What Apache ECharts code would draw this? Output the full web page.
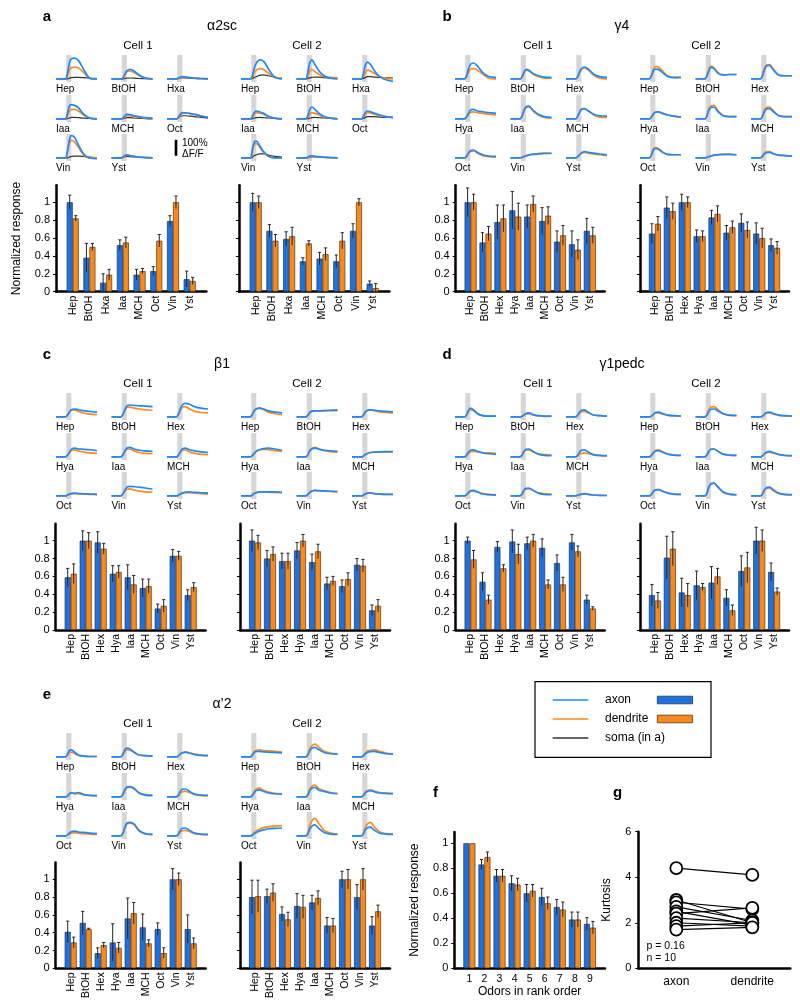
<!DOCTYPE html>
<html><head><meta charset="utf-8">
<script src="https://cdn.jsdelivr.net/npm/echarts@6/dist/echarts.min.js"></script>
<style>html,body{margin:0;padding:0;background:#fff}#c{width:800px;height:1004px}</style>
</head><body><div id="c"></div><script>
const FONT = '"Liberation Sans", Arial, Helvetica, sans-serif';
const BLUE_BAR = '#1f72de', ORANGE_BAR = '#f78a1d';
const BLUE_LINE = '#1e88ff', ORANGE_LINE = '#ff8a1c', SOMA_LINE = '#333333';

const odorsA = ['Hep','BtOH','Hxa','Iaa','MCH','Oct','Vin','Yst'];
const odors9 = ['Hep','BtOH','Hex','Hya','Iaa','MCH','Oct','Vin','Yst'];
const timePts = [0, 9, 11, 13, 15, 18, 22, 27, 33, 40];
const stimWindow = [10, 15];

// ---- traces (% dF/F) ----
const a1_axonT = [[0,0,30,100,125,130,115,60,5,0],[0,0,5,30,50,60,50,25,5,0],[0,0,5,12,15,12,8,5,3,0],[0,0,30,80,90,85,70,30,5,0],[0,0,5,20,30,28,20,15,8,5],[0,0,10,30,40,38,35,28,18,10],[0,0,40,110,140,130,80,25,0,-5],[0,0,5,15,20,15,10,5,3,0]];
const a1_dendT = [[0,0,20,55,70,75,68,40,5,0],[0,0,5,25,45,50,40,20,5,0],[0,0,3,8,10,10,8,5,3,0],[0,0,20,50,60,60,50,25,5,0],[0,0,3,15,20,20,15,10,5,3],[0,0,5,20,35,38,35,30,20,10],[0,0,30,90,110,100,65,20,0,0],[0,0,5,12,18,15,10,5,3,0]];
const a1_somaT = [[0,0,0,5,8,10,10,8,5,2],[0,0,0,3,5,6,5,3,2,0],[0,0,3,5,8,6,5,3,2,0],[0,0,2,6,10,10,8,5,3,0],[0,0,2,5,8,8,6,4,2,0],[0,0,5,15,20,20,18,15,10,5],[0,0,0,5,10,12,12,10,5,3],[0,0,3,8,10,8,6,4,2,0]];
const a2_axonT = [[0,0,20,70,100,120,112,60,10,0],[0,0,40,100,120,90,50,20,5,0],[0,0,30,85,105,90,50,15,-5,-15],[0,0,15,40,50,45,35,15,5,0],[0,0,20,60,75,60,35,15,5,0],[0,0,15,40,50,45,35,25,15,10],[0,0,50,100,105,80,40,10,0,0],[0,0,5,12,15,10,8,5,3,0]];
const a2_dendT = [[0,0,10,40,55,65,60,35,10,5],[0,0,20,50,60,45,30,15,10,8],[0,0,15,40,55,50,35,15,5,0],[0,0,10,30,40,38,30,15,5,0],[0,0,10,30,40,35,25,12,5,0],[0,0,10,30,40,38,30,22,15,10],[0,0,40,85,90,70,35,10,0,0],[0,0,3,8,10,8,6,4,2,0]];
const a2_somaT = [[0,0,3,10,15,22,25,20,12,5],[0,0,3,8,10,12,12,8,5,3],[0,0,3,10,15,15,12,10,8,5],[0,0,2,6,8,10,8,6,3,0],[0,0,2,5,8,10,8,6,4,2],[0,0,3,10,15,15,15,12,10,8],[0,0,5,15,20,25,25,18,10,5],[0,0,2,5,6,6,5,3,2,0]];

const b1_axonT = [[0,0,15,60,90,100,80,40,15,10],[0,0,10,40,60,55,35,20,12,10],[0,0,10,40,65,75,60,30,15,10],[0,0,10,35,55,60,50,45,40,35],[0,0,15,50,75,80,55,30,15,10],[0,0,10,40,60,65,50,30,20,18],[0,0,8,30,45,50,35,20,12,10],[0,0,3,8,12,18,22,25,28,28],[0,0,5,20,32,40,35,30,25,20]];
const b1_dendT = [[0,0,10,40,60,65,55,30,5,0],[0,0,8,35,55,50,30,15,5,5],[0,0,8,35,60,70,55,25,5,0],[0,0,8,25,40,45,40,35,30,25],[0,0,12,45,70,75,50,25,10,5],[0,0,10,38,58,65,50,25,12,10],[0,0,6,25,40,45,30,15,8,5],[0,0,3,10,15,20,25,28,30,30],[0,0,5,18,28,35,30,25,20,15]];
const b2_axonT = [[0,0,15,50,62,60,40,15,8,10],[0,0,15,50,72,65,35,25,28,28],[0,0,15,55,80,85,55,25,20,20],[0,0,10,30,42,45,35,25,18,12],[0,0,15,55,72,75,45,20,15,15],[0,0,12,45,62,65,45,20,15,15],[0,0,15,50,60,55,35,22,20,20],[0,0,3,8,12,18,20,22,22,20],[0,0,8,25,33,35,25,18,15,12]];
const b2_dendT = [[0,0,20,60,78,75,50,20,10,10],[0,0,20,60,80,70,40,25,28,28],[0,0,20,65,88,90,60,25,20,20],[0,0,10,32,44,45,35,25,18,12],[0,0,20,65,82,85,50,22,15,15],[0,0,15,55,72,75,50,22,15,15],[0,0,18,55,65,60,38,22,20,20],[0,0,3,8,12,18,20,22,22,20],[0,0,10,30,38,40,28,18,15,12]];

const c1_axonT = [[0,0,10,30,45,50,45,40,35,30],[0,0,15,45,70,75,72,70,68,65],[0,0,15,50,75,85,80,65,55,50],[0,0,10,30,48,55,50,48,45,40],[0,0,12,38,55,60,50,42,38,35],[0,0,10,32,50,55,45,38,32,28],[0,0,5,12,15,18,15,14,12,10],[0,0,12,35,55,60,58,55,50,42],[0,0,5,12,18,22,25,22,20,18]];
const c1_dendT = [[0,0,10,30,42,45,35,25,18,15],[0,0,12,40,60,62,55,50,45,42],[0,0,12,40,60,65,50,35,28,25],[0,0,8,25,40,45,38,30,25,22],[0,0,10,32,48,50,38,28,22,20],[0,0,8,28,42,45,32,22,16,15],[0,0,5,10,13,15,14,12,10,8],[0,0,10,30,42,45,38,30,26,24],[0,0,5,12,18,22,20,18,15,12]];
const c2_axonT = [[0,0,15,40,50,55,50,38,30,25],[0,0,10,28,35,38,38,40,42,44],[0,0,10,30,40,45,42,38,35,32],[0,0,8,22,35,45,52,55,50,42],[0,0,12,38,50,55,48,42,38,35],[0,0,5,15,22,28,30,32,33,33],[0,0,5,15,20,25,25,25,25,22],[0,0,8,22,30,35,33,32,30,28],[0,0,5,12,18,20,15,12,10,10]];
const c2_dendT = [[0,0,15,40,52,55,45,30,20,15],[0,0,10,30,38,40,38,38,40,40],[0,0,10,32,42,45,38,32,28,25],[0,0,10,25,38,45,48,45,40,35],[0,0,15,42,55,60,50,40,33,30],[0,0,5,15,22,28,30,32,32,32],[0,0,6,18,22,25,25,24,22,20],[0,0,8,25,32,35,32,30,28,25],[0,0,5,12,18,18,14,12,10,10]];

const d1_axonT = [[0,0,10,40,55,45,20,8,5,5],[0,0,3,12,22,25,15,8,5,5],[0,0,8,28,42,45,28,12,8,5],[0,0,8,30,42,45,35,25,20,18],[0,0,10,35,48,50,35,18,10,8],[0,0,8,28,42,45,30,15,10,8],[0,0,5,20,32,35,25,12,8,5],[0,0,10,35,48,50,35,18,10,8],[0,0,3,8,12,15,10,6,4,3]];
const d1_dendT = [[0,0,8,32,45,40,20,8,5,5],[0,0,3,10,18,20,12,6,4,4],[0,0,6,22,33,35,25,12,8,5],[0,0,6,22,32,35,32,28,25,22],[0,0,8,30,42,45,32,20,15,12],[0,0,5,15,22,25,20,12,8,6],[0,0,5,18,28,30,25,15,10,8],[0,0,8,30,42,45,35,20,15,10],[0,0,3,7,10,12,10,6,4,3]];
const d2_axonT = [[0,0,5,18,28,30,22,12,8,6],[0,0,10,35,48,50,38,20,12,10],[0,0,5,18,28,30,22,12,8,6],[0,0,8,25,36,40,30,18,12,10],[0,0,10,35,48,50,35,18,12,10],[0,0,6,20,30,35,28,16,10,8],[0,0,8,28,38,40,30,18,12,10],[0,0,15,55,75,80,55,25,12,8],[0,0,10,38,52,55,38,18,10,8]];
const d2_dendT = [[0,0,4,15,23,25,18,10,6,5],[0,0,12,45,62,65,45,20,10,8],[0,0,4,15,23,25,18,10,6,5],[0,0,9,28,40,45,32,18,12,10],[0,0,10,35,48,50,35,18,12,10],[0,0,5,18,26,30,24,14,9,7],[0,0,8,28,38,40,30,18,12,10],[0,0,15,55,75,80,55,22,10,6],[0,0,9,34,47,50,32,15,8,6]];

const e1_axonT = [[0,0,15,40,45,30,12,5,3,3],[0,0,15,45,55,50,30,12,8,5],[0,0,5,18,26,30,25,15,10,8],[0,0,5,20,28,20,28,15,10,8],[0,0,15,45,62,65,55,25,12,8],[0,0,10,35,48,50,35,18,12,10],[0,0,5,18,26,30,25,22,18,15],[0,0,15,55,80,85,75,35,15,10],[0,0,10,35,48,50,35,18,12,10]];
const e1_dendT = [[0,0,10,25,30,22,10,5,3,3],[0,0,12,35,45,42,28,12,8,5],[0,0,5,18,26,30,25,18,12,10],[0,0,4,15,22,25,20,15,10,8],[0,0,12,40,56,60,50,25,15,12],[0,0,8,25,33,35,28,15,10,8],[0,0,4,12,18,20,18,15,12,10],[0,0,15,50,75,80,70,30,12,8],[0,0,8,25,33,35,28,15,10,8]];
const e2_axonT = [[0,0,10,28,34,35,32,30,28,25],[0,0,12,40,55,60,45,28,20,18],[0,0,6,20,28,33,35,28,20,18],[0,0,8,28,40,45,35,25,20,18],[0,0,12,40,55,60,42,35,25,20],[0,0,8,25,35,40,32,25,22,20],[0,0,5,15,22,30,38,45,48,50],[0,0,12,45,62,70,45,22,12,10],[0,0,10,38,52,55,35,18,12,10]];
const e2_dendT = [[0,0,12,35,42,45,40,38,35,30],[0,0,15,50,70,80,60,35,25,20],[0,0,8,25,35,42,45,35,25,20],[0,0,10,35,50,55,42,30,22,20],[0,0,15,50,68,75,52,38,28,22],[0,0,10,30,40,45,36,28,24,22],[0,0,8,22,32,42,52,58,62,65],[0,0,18,65,95,110,75,35,18,12],[0,0,15,55,75,85,55,25,15,12]];

// ---- normalized responses (mean, sem) ----
const a1_axM=[1.0,0.38,0.10,0.52,0.19,0.23,0.79,0.14], a1_axE=[0.08,0.16,0.10,0.06,0.06,0.05,0.06,0.09];
const a1_deM=[0.82,0.50,0.19,0.55,0.23,0.57,1.0,0.12], a1_deE=[0.03,0.04,0.06,0.06,0.03,0.07,0.07,0.04];
const a2_axM=[1.0,0.68,0.59,0.34,0.37,0.34,0.68,0.09], a2_axE=[0.10,0.07,0.08,0.04,0.07,0.07,0.08,0.03];
const a2_deM=[1.0,0.57,0.62,0.54,0.42,0.57,1.0,0.04], a2_deE=[0.07,0.07,0.10,0.03,0.07,0.09,0.04,0.05];
const b1_axM=[1.0,0.55,0.78,0.91,0.84,0.79,0.56,0.53,0.68], b1_axE=[0.16,0.11,0.19,0.21,0.13,0.15,0.12,0.15,0.14];
const b1_deM=[1.0,0.65,0.82,0.84,0.98,0.85,0.63,0.47,0.63], b1_deE=[0.09,0.08,0.15,0.15,0.09,0.10,0.11,0.11,0.09];
const b2_axM=[0.65,0.94,1.0,0.62,0.83,0.66,0.77,0.65,0.52], b2_axE=[0.11,0.12,0.09,0.07,0.08,0.08,0.10,0.12,0.07];
const b2_deM=[0.76,0.90,1.0,0.62,0.87,0.72,0.69,0.60,0.49], b2_deE=[0.08,0.09,0.06,0.06,0.09,0.07,0.09,0.11,0.07];
const c1_axM=[0.59,1.0,0.98,0.63,0.59,0.47,0.24,0.83,0.39], c1_axE=[0.10,0.11,0.12,0.09,0.14,0.10,0.05,0.07,0.06];
const c1_deM=[0.63,1.0,0.91,0.65,0.51,0.49,0.27,0.83,0.48], c1_deE=[0.11,0.09,0.06,0.07,0.10,0.08,0.07,0.05,0.05];
const c2_axM=[1.0,0.80,0.77,0.89,0.76,0.52,0.49,0.73,0.22], c2_axE=[0.12,0.09,0.09,0.09,0.09,0.07,0.07,0.07,0.06];
const c2_deM=[0.98,0.85,0.77,1.0,0.88,0.55,0.57,0.72,0.27], c2_deE=[0.08,0.08,0.09,0.07,0.08,0.05,0.07,0.07,0.07];
const d1_axM=[1.0,0.54,0.93,0.99,0.97,0.92,0.75,0.98,0.34], d1_axE=[0.04,0.10,0.06,0.13,0.07,0.10,0.09,0.09,0.05];
const d1_deM=[0.79,0.34,0.69,0.85,1.0,0.51,0.51,0.88,0.24], d1_deE=[0.10,0.05,0.04,0.11,0.07,0.05,0.08,0.06,0.02];
const d2_axM=[0.39,0.81,0.42,0.50,0.53,0.36,0.66,1.0,0.65], d2_axE=[0.12,0.24,0.16,0.16,0.18,0.09,0.17,0.15,0.10];
const d2_deM=[0.33,0.91,0.39,0.48,0.60,0.22,0.70,1.0,0.43], d2_deE=[0.09,0.19,0.13,0.04,0.09,0.06,0.17,0.12,0.04];
const e1_axM=[0.41,0.51,0.17,0.29,0.56,0.46,0.44,1.0,0.44], e1_axE=[0.12,0.13,0.06,0.21,0.23,0.15,0.07,0.12,0.16];
const e1_deM=[0.29,0.44,0.26,0.23,0.62,0.28,0.17,1.0,0.28], e1_deE=[0.06,0.01,0.03,0.06,0.12,0.04,0.06,0.07,0.06];
const e2_axM=[0.80,0.81,0.61,0.70,0.74,0.48,1.0,0.80,0.48], e2_axE=[0.19,0.08,0.08,0.14,0.08,0.09,0.09,0.14,0.10];
const e2_deM=[0.81,0.85,0.55,0.69,0.79,0.48,1.0,1.0,0.64], e2_deE=[0.18,0.10,0.08,0.13,0.08,0.08,0.11,0.12,0.07];

const rankLabels = ['1','2','3','4','5','6','7','8','9'];
const f_axM=[1.0,0.83,0.74,0.68,0.60,0.57,0.49,0.39,0.355], f_axE=[0,0.04,0.05,0.06,0.07,0.07,0.06,0.06,0.05];
const f_deM=[1.0,0.89,0.74,0.67,0.62,0.52,0.47,0.39,0.325], f_deE=[0,0.04,0.05,0.05,0.05,0.05,0.06,0.06,0.05];

const gCats = ['axon','dendrite'];
const kurtAxon = [4.4,3.0,2.9,2.7,2.5,2.4,2.2,2.0,1.85,1.7];
const kurtDend = [4.1,2.0,2.6,2.1,1.9,2.65,2.0,1.85,2.0,1.8];
const normTicks = [0,0.2,0.4,0.6,0.8,1];

// ---- builders ----
const grid=[], xAxis=[], yAxis=[], series=[], graphic=[];
function addGrid(g, xa, ya){ grid.push(g); const i=grid.length-1; xa.gridIndex=i; ya.gridIndex=i; xAxis.push(xa); yAxis.push(ya); return i; }
function txt(x, y, s, size, o){ o=o||{}; graphic.push({type:'text', x:x, y:y, silent:true, z:10,
  style:{text:s, font:(o.bold?'bold ':'')+size+'px '+FONT, fill:'#000', textAlign:o.align||'left', textVerticalAlign:'middle'}}); }

function tracePanel(dx, dy, odors, cells){
  const colOff=[0,55.5,111], rowTop=[55,95,134];
  cells.forEach(cell=>{
    odors.forEach((od,k)=>{
      const r=Math.floor(k/3), c=k%3;
      const left=dx+cell.x0+colOff[c], top=dy+rowTop[r];
      const gi=addGrid({left:left, top:top, width:41, height:27},
        {type:'value', min:0, max:40, show:false},
        {type:'value', min:-19, max:150, show:false});
      const mk=(arr,color,w,z)=>({type:'line', xAxisIndex:gi, yAxisIndex:gi, data:timePts.map((t,j)=>[t,arr[k][j]]),
        showSymbol:false, smooth:0.3, lineStyle:{color:color, width:w}, silent:true, z:z});
      const lines=[];
      if(cell.soma) lines.push(mk(cell.soma,SOMA_LINE,1.2,3));
      lines.push(mk(cell.dend,ORANGE_LINE,1.7,4));
      lines.push(mk(cell.axon,BLUE_LINE,1.7,5));
      lines[0].markArea={silent:true, itemStyle:{color:'#d6d6d6'}, data:[[{xAxis:stimWindow[0]},{xAxis:stimWindow[1]}]]};
      lines.forEach(s=>series.push(s));
      txt(left, top+34, od, 10);
    });
  });
}

function errSeries(gi, means, errs, offset){
  return {type:'custom', xAxisIndex:gi, yAxisIndex:gi, z:6, silent:true,
    data: means.map((m,i)=>[i+1, m, errs[i]]),
    renderItem:(p, api)=>{
      const x=api.value(0), m=api.value(1), e=api.value(2);
      if(!e) return null;
      const t=api.coord([x, m+e]), b=api.coord([x, m-e]);
      const px=t[0]+offset;
      return {type:'group', children:[
        {type:'line', shape:{x1:px,y1:b[1],x2:px,y2:t[1]}, style:{stroke:'#262626', lineWidth:1}},
        {type:'line', shape:{x1:px-1.6,y1:t[1],x2:px+1.6,y2:t[1]}, style:{stroke:'#262626', lineWidth:1}}
      ]};
    }};
}

function barPanel(o){
  const cats=['',...o.cats,''];
  const gi=addGrid({left:o.left, top:o.top, width:o.width, height:o.height},
    {type:'category', data:cats, boundaryGap:false,
     axisLine:{lineStyle:{color:'#000', width:2.5}}, axisTick:{show:false},
     axisLabel:{interval:0, rotate:o.rotate, fontSize:o.xFont||10.5, color:'#000', fontFamily:FONT, margin:o.xMargin||4},
     name:o.xName||'', nameLocation:'middle', nameGap:o.xNameGap||16, nameTextStyle:{fontSize:12, color:'#000', fontFamily:FONT}},
    {type:'value', min:0, max:o.ymax,
     axisLine:{show:true, lineStyle:{color:'#000', width:2.5}},
     axisTick:{show:true, length:3, customValues:normTicks, lineStyle:{color:'#000', width:1}},
     axisLabel:{show:o.ylabels, customValues:normTicks, fontSize:11, color:'#000', fontFamily:FONT, margin:6},
     splitLine:{show:false},
     name:o.yName||'', nameLocation:'middle', nameGap:o.yNameGap||33, nameRotate:90, nameTextStyle:{fontSize:12, color:'#000', fontFamily:FONT}});
  series.push({type:'bar', xAxisIndex:gi, yAxisIndex:gi, data:[null,...o.axM,null], barWidth:6, barGap:'0%', silent:true,
    itemStyle:{color:BLUE_BAR, borderColor:'#1a3560', borderWidth:0.7}});
  series.push({type:'bar', xAxisIndex:gi, yAxisIndex:gi, data:[null,...o.deM,null], barWidth:6, barGap:'0%', silent:true,
    itemStyle:{color:ORANGE_BAR, borderColor:'#5a3410', borderWidth:0.7}});
  series.push(errSeries(gi, o.axM, o.axE, -3));
  series.push(errSeries(gi, o.deM, o.deE, 3));
}

// ---- panel headers ----
function header(dx, dy, letter, title, c1x, c2x){
  txt(dx+47, dy+17, letter, 15, {bold:true, align:'center'});
  txt(dx+222, dy+26, title, 14, {align:'center'});
  txt(c1x, dy+46, 'Cell 1', 11.5, {align:'center'});
  txt(c2x, dy+46, 'Cell 2', 11.5, {align:'center'});
}
header(0,0,'a','\u03b12sc',138,307);
header(400,0,'b','\u03b34',538,706);
header(0,338,'c','\u03b21',138,307);
header(400,338,'d','\u03b31pedc',538,706);
header(0,678,'e','\u03b1\u20192',138,307);

tracePanel(0,0,odorsA,[{x0:56,axon:a1_axonT,dend:a1_dendT,soma:a1_somaT},{x0:241,axon:a2_axonT,dend:a2_dendT,soma:a2_somaT}]);
tracePanel(399,0,odors9,[{x0:56,axon:b1_axonT,dend:b1_dendT},{x0:241,axon:b2_axonT,dend:b2_dendT}]);
tracePanel(0,338,odors9,[{x0:56,axon:c1_axonT,dend:c1_dendT},{x0:241,axon:c2_axonT,dend:c2_dendT}]);
tracePanel(399,338,odors9,[{x0:56,axon:d1_axonT,dend:d1_dendT},{x0:241,axon:d2_axonT,dend:d2_dendT}]);
tracePanel(0,678,odors9,[{x0:56,axon:e1_axonT,dend:e1_dendT},{x0:241,axon:e2_axonT,dend:e2_dendT}]);

// scale bar (100% dF/F) drawn on the trace scale
(function(){
  const gi=addGrid({left:174, top:131.7, width:4, height:27},{type:'value',min:-1,max:1,show:false},{type:'value',min:-19,max:150,show:false});
  series.push({type:'line', xAxisIndex:gi, yAxisIndex:gi, data:[[0,0],[0,100]], showSymbol:false, lineStyle:{color:'#000', width:2.6}, silent:true});
  txt(182, 143.5, '100%', 10);
  txt(182, 154.5, '\u0394F/F', 10);
})();

// ---- bar panels ----
const H1=106.4;
barPanel({left:56, top:185.3, width:150.4, height:H1, ymax:1.19, cats:odorsA, axM:a1_axM, axE:a1_axE, deM:a1_deM, deE:a1_deE, rotate:90, ylabels:true, yName:'Normalized response'});
barPanel({left:239, top:185.3, width:150.4, height:H1, ymax:1.19, cats:odorsA, axM:a2_axM, axE:a2_axE, deM:a2_deM, deE:a2_deE, rotate:90, ylabels:false});
barPanel({left:455.7, top:185.3, width:149, height:H1, ymax:1.19, cats:odors9, axM:b1_axM, axE:b1_axE, deM:b1_deM, deE:b1_deE, rotate:90, ylabels:true});
barPanel({left:640, top:185.3, width:149, height:H1, ymax:1.19, cats:odors9, axM:b2_axM, axE:b2_axE, deM:b2_deM, deE:b2_deE, rotate:90, ylabels:false});
barPanel({left:55.7, top:523.7, width:150, height:106.3, ymax:1.19, cats:odors9, axM:c1_axM, axE:c1_axE, deM:c1_deM, deE:c1_deE, rotate:90, ylabels:true});
barPanel({left:240, top:523.7, width:150, height:106.3, ymax:1.19, cats:odors9, axM:c2_axM, axE:c2_axE, deM:c2_deM, deE:c2_deE, rotate:90, ylabels:false});
barPanel({left:455.7, top:523.7, width:149, height:106.3, ymax:1.19, cats:odors9, axM:d1_axM, axE:d1_axE, deM:d1_deM, deE:d1_deE, rotate:90, ylabels:true});
barPanel({left:640, top:523.7, width:149, height:106.3, ymax:1.19, cats:odors9, axM:d2_axM, axE:d2_axE, deM:d2_deM, deE:d2_deE, rotate:90, ylabels:false});
barPanel({left:55.7, top:862.4, width:150, height:105.9, ymax:1.19, cats:odors9, axM:e1_axM, axE:e1_axE, deM:e1_deM, deE:e1_deE, rotate:90, ylabels:true});
barPanel({left:240, top:862.4, width:150, height:105.9, ymax:1.19, cats:odors9, axM:e2_axM, axE:e2_axE, deM:e2_deM, deE:e2_deE, rotate:90, ylabels:false});

// panel f
barPanel({left:454.3, top:832, width:150.7, height:136.3, ymax:1.09, cats:rankLabels, axM:f_axM, axE:f_axE, deM:f_deM, deE:f_deE, rotate:0, xMargin:5, ylabels:true, yName:'Normalized response', yNameGap:34, xName:'Odors in rank order', xNameGap:16});
txt(435.5, 793, 'f', 15, {bold:true, align:'center'});

// panel g
(function(){
  const gi=addGrid({left:638.3, top:831.7, width:152, height:136.6},
    {type:'category', data:gCats, boundaryGap:true, axisLine:{lineStyle:{color:'#000', width:2.5}}, axisTick:{show:false},
     axisLabel:{fontSize:12, color:'#000', fontFamily:FONT, margin:7}},
    {type:'value', min:0, max:6, interval:2, axisLine:{show:true, lineStyle:{color:'#000', width:2.5}},
     axisTick:{show:true, length:3, lineStyle:{color:'#000'}}, splitLine:{show:false},
     axisLabel:{fontSize:11, color:'#000', fontFamily:FONT, margin:7},
     name:'Kurtosis', nameLocation:'middle', nameGap:26, nameRotate:90, nameTextStyle:{fontSize:12, color:'#000', fontFamily:FONT}});
  kurtAxon.forEach((v,i)=>{
    series.push({type:'line', xAxisIndex:gi, yAxisIndex:gi, data:[v, kurtDend[i]], symbol:'circle', symbolSize:12, showSymbol:true,
      lineStyle:{color:'#000', width:1.2}, itemStyle:{color:'#fff', borderColor:'#000', borderWidth:1.8}, silent:true, z:5});
  });
  txt(617.7, 793, 'g', 15, {bold:true, align:'center'});
  txt(646.5, 946.5, 'p = 0.16', 10.5);
  txt(646.5, 958.5, 'n = 10', 10.5);
})();

// ---- legend ----
graphic.push({type:'rect', shape:{x:535, y:681.7, width:176, height:75.6}, style:{fill:'none', stroke:'#000', lineWidth:1.2}, silent:true});
[['axon',BLUE_LINE,BLUE_BAR,'#1a3560',700],['dendrite',ORANGE_LINE,ORANGE_BAR,'#5a3410',719],['soma (in a)',SOMA_LINE,null,null,738]].forEach(r=>{
  graphic.push({type:'line', shape:{x1:552.7,y1:r[4],x2:588.3,y2:r[4]}, style:{stroke:r[1], lineWidth:1.6}, silent:true});
  txt(605, r[4], r[0], 12);
  if(r[2]) graphic.push({type:'rect', shape:{x:657.3, y:r[4]-3.8, width:35.3, height:7.6}, style:{fill:r[2], stroke:r[3], lineWidth:0.8}, silent:true});
});

const chart=echarts.init(document.getElementById('c'), null, {renderer:'canvas'});
chart.setOption({animation:false, backgroundColor:'#fff', textStyle:{fontFamily:FONT}, grid:grid, xAxis:xAxis, yAxis:yAxis, series:series, graphic:{elements:graphic}});
</script></body></html>
